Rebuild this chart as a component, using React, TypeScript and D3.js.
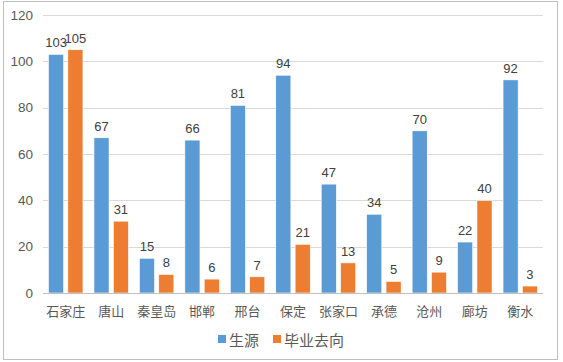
import { useEffect, useRef } from "react";
import * as d3 from "d3";

// ── Data ──────────────────────────────────────────────────────────────────────

const CITIES = ["石家庄", "唐山", "秦皇岛", "邯郸", "邢台", "保定", "张家口", "承德", "沧州", "廊坊", "衡水"];
const SOURCE = [103, 67, 15, 66, 81, 94, 47, 34, 70, 22, 92];
const DEST   = [105, 31, 8, 6, 7, 21, 13, 5, 9, 40, 3];
const SERIES_NAMES = ["生源", "毕业去向"];
const Y_TICKS = [0, 20, 40, 60, 80, 100, 120];

const BLUE   = "#5B9BD5";
const ORANGE = "#ED7D31";
const GRID   = "#D9D9D9";
const TEXT   = "#595959";
const FONT   = "'Noto Sans CJK SC', 'Liberation Sans', sans-serif";
const NUM    = "'Liberation Sans', Arial, sans-serif";

export default function App() {
  const svgRef = useRef<SVGSVGElement>(null);

  useEffect(() => {
    if (!svgRef.current) return;
    const svg = d3.select(svgRef.current);
    svg.selectAll("*").remove();

    // Frame
    svg.append("rect")
      .attr("x", 3.5).attr("y", 1.5).attr("width", 554).attr("height", 358)
      .attr("fill", "#fff").attr("stroke", "#BFBFBF");

    const x0 = d3.scaleBand().domain(CITIES).range([43, 543]).paddingInner(0).paddingOuter(0);
    const y = d3.scaleLinear().domain([0, 120]).range([293, 15]);
    const x1 = d3.scaleBand().domain(SERIES_NAMES).range([5.5, x0.bandwidth() - 5.5]).paddingInner(0.22);

    // Grid
    const g = svg.append("g");
    g.selectAll(".grid")
      .data(Y_TICKS)
      .join("line")
      .attr("x1", 43).attr("x2", 543)
      .attr("y1", d => Math.round(y(d)) + 0.5).attr("y2", d => Math.round(y(d)) + 0.5)
      .attr("stroke", GRID);

    // Y labels
    g.selectAll(".ylab")
      .data(Y_TICKS)
      .join("text")
      .attr("x", 33).attr("y", d => y(d))
      .attr("text-anchor", "end").attr("dominant-baseline", "central")
      .attr("fill", TEXT).attr("font-size", "13.5px").attr("font-family", NUM)
      .text(d => d);

    const series = [
      { name: SERIES_NAMES[0], values: SOURCE, color: BLUE },
      { name: SERIES_NAMES[1], values: DEST, color: ORANGE },
    ];

    series.forEach(s => {
      const data = CITIES.map((c, i) => ({ c, v: s.values[i] }));
      g.selectAll(`.bar-${s.name}`)
        .data(data)
        .join("rect")
        .attr("x", d => x0(d.c)! + x1(s.name)!)
        .attr("y", d => y(d.v))
        .attr("width", x1.bandwidth())
        .attr("height", d => y(0) - y(d.v))
        .attr("fill", s.color)
        .attr("stroke", "#fff").attr("stroke-width", 0.6);

      g.selectAll(`.lbl-${s.name}`)
        .data(data)
        .join("text")
        .attr("x", d => x0(d.c)! + x1(s.name)! + x1.bandwidth() / 2)
        .attr("y", d => y(d.v) - 7)
        .attr("text-anchor", "middle")
        .attr("fill", "#404040").attr("font-size", "13px").attr("font-family", NUM)
        .text(d => d.v);
    });

    // X axis line
    g.append("line")
      .attr("x1", 43).attr("x2", 543)
      .attr("y1", Math.round(y(0)) + 0.5).attr("y2", Math.round(y(0)) + 0.5)
      .attr("stroke", "#BFBFBF");

    // X labels
    g.selectAll(".xlab")
      .data(CITIES)
      .join("text")
      .attr("x", d => x0(d)! + x0.bandwidth() / 2)
      .attr("y", 310)
      .attr("text-anchor", "middle").attr("dominant-baseline", "central")
      .attr("fill", TEXT).attr("font-size", "13px").attr("font-family", FONT)
      .text(d => d);

    // Legend
    const legend = svg.append("g");
    const items = [
      { name: SERIES_NAMES[0], color: BLUE, x: 218 },
      { name: SERIES_NAMES[1], color: ORANGE, x: 273 },
    ];
    items.forEach(it => {
      legend.append("rect")
        .attr("x", it.x).attr("y", 335).attr("width", 8).attr("height", 8)
        .attr("fill", it.color);
      legend.append("text")
        .attr("x", it.x + 11).attr("y", 339)
        .attr("dominant-baseline", "central")
        .attr("fill", TEXT).attr("font-size", "15px").attr("font-family", FONT)
        .text(it.name);
    });
  }, []);

  return <svg ref={svgRef} width={563} height={362} style={{ display: "block", position: "absolute", left: 0, top: 0 }} />;
}
